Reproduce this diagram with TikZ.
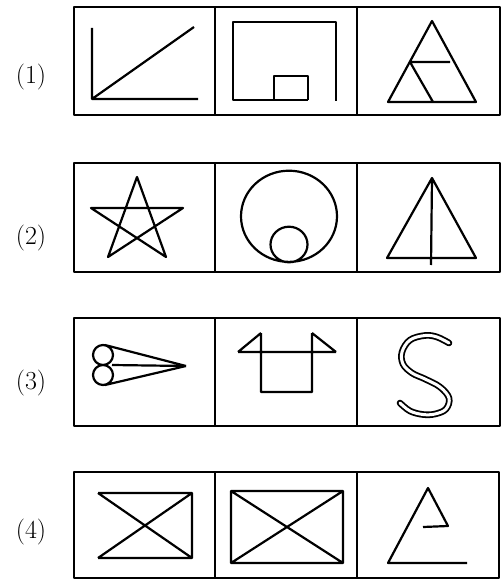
\documentclass[tikz,border=0pt]{standalone}
\usepackage{tikz}

\begin{document}
\begin{tikzpicture}[x=1pt,y=-1pt,line join=round,
    frame/.style={line width=1.8pt},
    fig/.style={line width=2.2pt},
    numlabel/.style={font=\fontsize{26}{30}\selectfont, inner sep=0pt}]
    \useasboundingbox (0,0) rectangle (503,580);

    % row (1)
    \node[numlabel] (n1) at (31,77) {(1)};
    \draw[frame] (74,7) rectangle (500,115) (215,7) -- (215,115) (357,7) -- (357,115);
    \draw[fig] (92,28) -- (92,99) -- (198,99) (92,99) -- (194,27);
    \draw[fig] (308,100) -- (233,100) -- (233,22) -- (336,22) -- (336,101)
               (274,100) -- (274,76) -- (308,76) -- (308,100);
    \draw[fig] (432,21) -- (388,102) -- (476,102) -- cycle
               (410,62) -- (450,62) (410,62) -- (433,102);

    % row (2)
    \node[numlabel] (n2) at (31,238) {(2)};
    \draw[frame] (74,163) rectangle (500,272) (215,163) -- (215,272) (357,163) -- (357,272);
    \draw[fig] (137,177) -- (108,257) -- (183,208) -- (91,208) -- (166,257) -- cycle;
    \draw[fig] (289,216.3) ellipse [x radius=48, y radius=45.6]
               (289,244.5) ellipse [x radius=18.5, y radius=17.8];
    \draw[fig] (432,178) -- (387,258) -- (476,258) -- cycle (432,178) -- (431,265);

    % row (3)
    \node[numlabel] (n3) at (31,383) {(3)};
    \draw[frame] (74,318) rectangle (500,426) (215,318) -- (215,426) (357,318) -- (357,426);
    \draw[fig] (103,355) circle (10) (103,375) circle (10)
               (105,345) -- (186,366) (112,365) -- (186,366) (105,385) -- (186,366);
    \draw[fig] (261,333) -- (261,392) -- (312,392) -- (312,333)
               (238,352) -- (336,352)
               (238,352) -- (261,333) (312,333) -- (336,352);
    \draw[line width=1.8pt, double, double distance=3pt, line cap=round]
        plot[smooth, tension=0.6] coordinates {(449,343) (437,337) (425,335.5) (410,340) (402,352)
        (403,364) (412,373) (425,379) (440,387) (449,398) (446,409) (435,414) (423,414.5)
        (410,411) (400,403)};

    % row (4)
    \node[numlabel] (n4) at (31,532) {(4)};
    \draw[frame] (74,472) rectangle (499,578) (215,472) -- (215,578) (357,472) -- (357,578);
    \draw[fig] (98,493) -- (192,493) -- (192,558) -- (98,558)
               (98,493) -- (192,558) (98,558) -- (192,493);
    \draw[fig] (231,491) rectangle (343,563) (231,491) -- (343,563) (231,563) -- (343,491);
    \draw[fig] (467,563) -- (388,563) -- (428,488) -- (448,526) -- (423,527);
\end{tikzpicture}
\end{document}
